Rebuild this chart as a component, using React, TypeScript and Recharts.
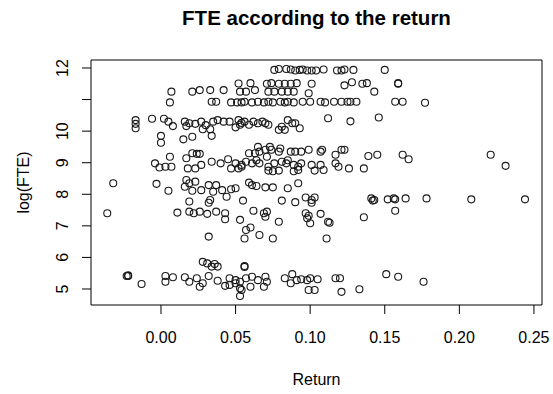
import { ScatterChart, Scatter, XAxis, YAxis, ReferenceArea, Label } from "recharts";

const FONT = '"Liberation Sans", Arial, Helvetica, sans-serif';

// [return, log(FTE)] pairs, grouped by rough log(FTE) band
const band12: [number, number][] = [
  [0.150, 11.94], [0.076, 11.94], [0.079, 11.97], [0.084, 11.97], [0.087, 11.95], [0.090, 11.92],
  [0.093, 11.94], [0.095, 11.95], [0.098, 11.92], [0.101, 11.92], [0.104, 11.92], [0.109, 11.95],
  [0.118, 11.92], [0.121, 11.92], [0.123, 11.95], [0.129, 11.94],
];

const band11: [number, number][] = [
  [0.159, 11.52], [0.159, 11.50], [0.143, 11.25], [0.157, 10.93], [0.162, 10.93], [0.177, 10.90],
  [0.007, 11.25], [0.006, 10.91], [0.021, 11.25], [0.026, 11.30], [0.033, 11.30], [0.042, 11.30],
  [0.052, 11.51], [0.034, 10.93], [0.037, 10.93], [0.047, 10.91], [0.051, 10.91], [0.054, 10.91],
  [0.060, 11.52], [0.071, 11.50], [0.074, 11.52], [0.079, 11.50], [0.083, 11.50], [0.087, 11.50],
  [0.091, 11.52], [0.101, 11.50], [0.123, 11.45], [0.128, 11.55], [0.135, 11.50], [0.138, 11.52],
  [0.053, 11.25], [0.057, 11.25], [0.063, 11.30], [0.072, 11.25], [0.076, 11.25], [0.081, 11.25],
  [0.085, 11.25], [0.089, 11.25], [0.099, 11.20], [0.056, 10.93], [0.061, 10.91], [0.065, 10.93],
  [0.069, 10.91], [0.072, 10.93], [0.075, 10.91], [0.080, 10.93], [0.083, 10.91], [0.085, 10.93],
  [0.089, 10.91], [0.095, 10.93], [0.100, 10.93], [0.107, 10.93], [0.110, 10.91], [0.116, 10.93],
  [0.121, 10.93], [0.125, 10.93], [0.127, 10.93], [0.131, 10.93],
];

const band10: [number, number][] = [
  [0.146, 10.43], [-0.017, 10.35], [-0.017, 10.23], [-0.017, 10.09], [-0.006, 10.39], [0.002, 10.39],
  [0.005, 10.30], [0.008, 10.16], [0.016, 10.30], [0.017, 10.16], [0.019, 10.25], [0.023, 10.23],
  [0.027, 10.30], [0.030, 10.19], [0.033, 10.06], [0.035, 10.30], [0.038, 10.35], [0.042, 10.30],
  [0.046, 10.30], [0.052, 10.35], [0.054, 10.26], [0.050, 10.12], [0.028, 10.06], [0.000, 9.85],
  [0.000, 9.63], [0.015, 9.74], [0.021, 9.82], [0.034, 9.85], [0.112, 10.41], [0.127, 10.31],
  [0.053, 10.20], [0.056, 10.30], [0.059, 10.20], [0.062, 10.30], [0.065, 10.25], [0.068, 10.30],
  [0.070, 10.25], [0.072, 10.20], [0.079, 10.04], [0.081, 10.14], [0.083, 10.04], [0.085, 10.35],
  [0.088, 10.25], [0.090, 10.25], [0.093, 10.09],
];

const band9: [number, number][] = [
  [0.145, 9.25], [0.162, 9.25], [0.166, 9.11], [0.221, 9.25], [0.231, 8.90], [0.006, 9.19],
  [-0.004, 8.98], [-0.001, 8.85], [0.003, 8.87], [0.007, 8.87], [0.017, 9.14], [0.021, 9.30],
  [0.024, 9.28], [0.026, 9.28], [0.018, 8.82], [0.023, 8.82], [0.027, 8.93], [0.034, 9.03],
  [0.040, 8.98], [0.045, 9.11], [0.047, 8.82], [0.052, 8.82], [0.054, 8.87], [0.065, 9.50],
  [0.073, 9.50], [0.080, 9.45], [0.059, 9.30], [0.063, 9.30], [0.066, 9.35], [0.070, 9.41],
  [0.074, 9.41], [0.079, 9.35], [0.087, 9.35], [0.090, 9.35], [0.094, 9.35], [0.099, 9.41],
  [0.107, 9.35], [0.108, 9.41], [0.117, 9.25], [0.121, 9.41], [0.123, 9.41], [0.139, 9.21],
  [0.050, 8.98], [0.054, 8.93], [0.057, 9.03], [0.061, 8.98], [0.064, 9.08], [0.066, 8.98],
  [0.071, 9.19], [0.072, 8.87], [0.076, 8.98], [0.081, 9.03], [0.084, 8.98], [0.085, 9.08],
  [0.089, 8.93], [0.092, 8.87], [0.094, 8.98], [0.101, 8.93], [0.107, 8.93], [0.109, 8.77],
  [0.117, 8.98], [0.119, 8.87], [0.126, 8.82], [0.136, 8.82], [0.072, 8.75], [0.075, 8.73],
  [0.079, 8.75], [0.089, 8.73], [0.092, 8.77], [0.103, 8.75],
];

const band8: [number, number][] = [
  [0.143, 7.82], [0.152, 7.84], [0.156, 7.87], [0.157, 7.84], [0.164, 7.87], [0.178, 7.87],
  [0.208, 7.84], [0.244, 7.84], [0.059, 8.37], [0.061, 8.29], [0.064, 8.26], [0.070, 8.22],
  [0.075, 8.22], [0.085, 8.19], [0.092, 8.35], [0.050, 8.19], [0.055, 7.80], [0.081, 7.80],
  [0.090, 7.75], [0.097, 7.90], [0.101, 7.82], [0.103, 7.90], [0.101, 7.73], [0.141, 7.87],
  [0.142, 7.80], [-0.032, 8.35], [-0.003, 8.33], [0.005, 8.11], [0.017, 8.45], [0.019, 8.35],
  [0.016, 8.24], [0.023, 8.40], [0.021, 8.11], [0.027, 8.13], [0.032, 8.29], [0.035, 8.08],
  [0.037, 8.29], [0.041, 8.13], [0.044, 7.92], [0.047, 8.16], [0.019, 7.77], [0.032, 7.73],
  [0.033, 7.82],
];

const band7: [number, number][] = [
  [0.157, 7.48], [0.062, 7.48], [0.069, 7.40], [0.070, 7.29], [0.071, 7.45], [0.079, 7.13],
  [0.097, 7.40], [0.099, 7.32], [0.098, 7.24], [0.100, 7.08], [0.107, 7.38], [0.112, 7.13],
  [0.113, 7.10], [0.111, 6.60], [0.053, 7.19], [0.057, 6.87], [0.060, 6.95], [0.056, 6.60],
  [0.066, 6.71], [0.075, 6.60], [0.136, 7.27], [-0.036, 7.40], [0.011, 7.42], [0.019, 7.45],
  [0.022, 7.40], [0.026, 7.45], [0.031, 7.38], [0.037, 7.45], [0.043, 7.40], [0.043, 7.21],
  [0.032, 6.66],
];

const band5: [number, number][] = [
  [0.151, 5.47], [0.159, 5.39], [0.176, 5.23], [0.056, 5.70], [0.056, 5.73], [0.050, 5.28],
  [0.053, 5.23], [0.057, 5.34], [0.061, 5.39], [0.065, 5.28], [0.070, 5.39], [0.071, 5.23],
  [0.053, 5.02], [0.054, 4.97], [0.053, 4.78], [0.060, 5.07], [0.069, 5.07], [0.083, 5.34],
  [0.088, 5.47], [0.087, 5.18], [0.091, 5.28], [0.094, 5.31], [0.098, 5.28], [0.100, 5.34],
  [0.105, 5.31], [0.099, 4.97], [0.103, 4.97], [0.117, 5.34], [0.120, 5.34], [0.121, 4.91],
  [0.133, 4.99], [0.028, 5.86], [0.031, 5.81], [0.036, 5.79], [0.038, 5.71], [0.034, 5.71],
  [-0.023, 5.41], [-0.022, 5.41], [-0.022, 5.43], [-0.013, 5.16], [0.003, 5.41], [0.003, 5.23],
  [0.008, 5.37], [0.016, 5.37], [0.019, 5.23], [0.024, 5.34], [0.026, 5.07], [0.028, 5.18],
  [0.032, 5.41], [0.038, 5.26], [0.043, 5.10], [0.046, 5.34], [0.046, 5.13], [0.050, 5.18],
];

const xTicks = [0, 0.05, 0.1, 0.15, 0.2, 0.25];
const yTicks = [5, 6, 7, 8, 9, 10, 11, 12];
const xDomain: [number, number] = [-0.0469, 0.2554];
const yDomain: [number, number] = [4.493, 12.253];

const points = [...band12, ...band11, ...band10, ...band9, ...band8, ...band7, ...band5].map(
  ([ret, fte]) => ({ ret, fte })
);

const ring = (p: any) => (
  <circle cx={p.cx} cy={p.cy} r={3.5} fill="none" stroke="#1a1a1a" strokeWidth={1.1} />
);

function XTick({ x, y, payload }: any) {
  return (
    <text x={x} y={y + 27} textAnchor="middle" fontSize={16} fill="#000" fontFamily={FONT}>
      {Number(payload.value).toFixed(2)}
    </text>
  );
}

function YTick({ x, y, payload }: any) {
  // R drops the "11" label because it would collide with its neighbours
  if (payload.value === 11) return <g />;
  const bx = x - 11.5;
  return (
    <text
      x={bx}
      y={y}
      transform={`rotate(-90 ${bx} ${y})`}
      textAnchor="middle"
      fontSize={16}
      fill="#000"
      fontFamily={FONT}
    >
      {payload.value}
    </text>
  );
}

export default function App() {
  return (
    <div style={{ position: "absolute", left: 0, top: 0, width: 553, height: 394, background: "#fff", fontFamily: FONT }}>
      <div
        style={{
          position: "absolute",
          left: 91,
          width: 451,
          top: 7.5,
          fontSize: 20.5,
          lineHeight: "20.5px",
          fontWeight: 700,
          textAlign: "center",
          color: "#000",
        }}
      >
        FTE according to the return
      </div>
      <ScatterChart width={553} height={394} margin={{ top: 60, right: 11, bottom: 0, left: 0 }}>
        <XAxis
          type="number"
          dataKey="ret"
          domain={xDomain}
          ticks={xTicks}
          allowDataOverflow
          height={89}
          axisLine={false}
          tickLine={{ stroke: "#000" }}
          tickSize={9}
          tickMargin={2}
          tick={<XTick />}
        >
          <Label
            content={() => (
              <text x={316.5} y={385} textAnchor="middle" fontSize={16} fill="#000" fontFamily={FONT}>
                Return
              </text>
            )}
          />
        </XAxis>
        <YAxis
          type="number"
          dataKey="fte"
          domain={yDomain}
          ticks={yTicks}
          allowDataOverflow
          width={91}
          axisLine={false}
          tickLine={{ stroke: "#000" }}
          tickSize={9}
          tickMargin={2}
          tick={<YTick />}
        >
          <Label
            content={() => (
              <text
                x={29}
                y={182.5}
                transform="rotate(-90 29 182.5)"
                textAnchor="middle"
                fontSize={16}
                fill="#000"
                fontFamily={FONT}
              >
                log(FTE)
              </text>
            )}
          />
        </YAxis>
        <ReferenceArea
          x1={xDomain[0]}
          x2={xDomain[1]}
          y1={yDomain[0]}
          y2={yDomain[1]}
          fill="none"
          stroke="#000"
          strokeWidth={1}
          ifOverflow="visible"
        />
        <Scatter data={points} shape={ring} isAnimationActive={false} />
      </ScatterChart>
    </div>
  );
}
